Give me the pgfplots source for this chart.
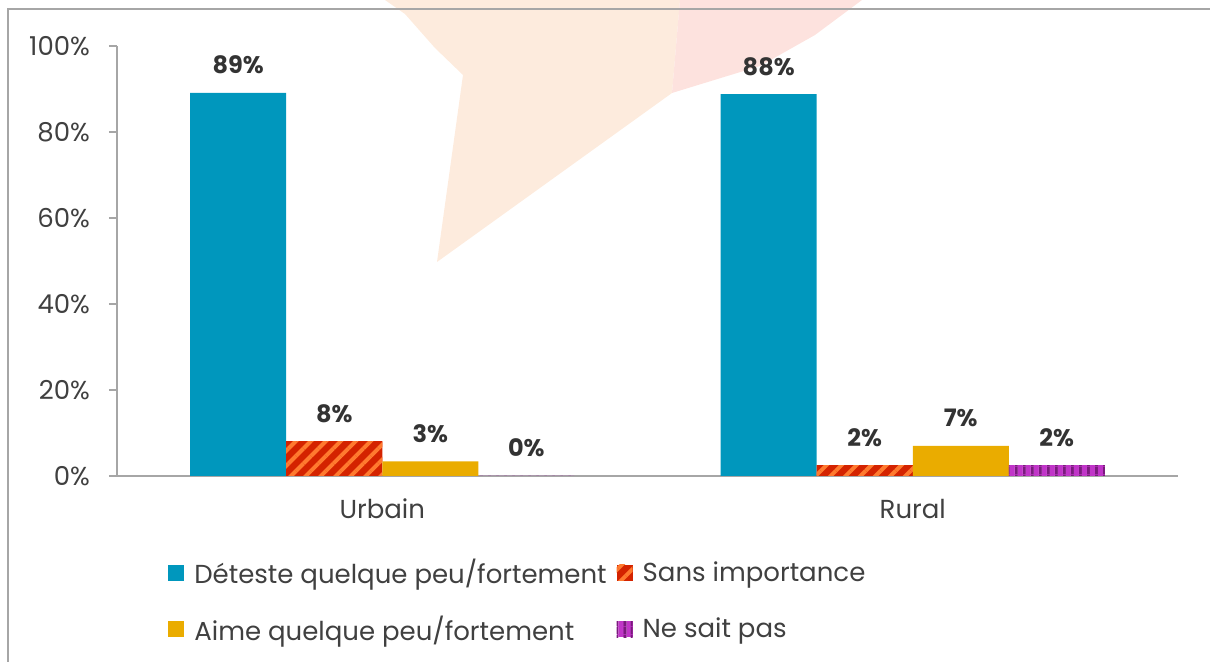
\documentclass[border=0pt]{standalone}
\usepackage{fontspec}
\setmainfont{Poppins}
\usepackage{pgfplots}
\pgfplotsset{compat=1.18}
\usetikzlibrary{patterns.meta}

\definecolor{cblue}{HTML}{0097BD}
\definecolor{cred}{HTML}{D42300}
\definecolor{corange}{HTML}{FF7A2F}
\definecolor{cyellow}{HTML}{EAAC00}
\definecolor{cpurple}{HTML}{C035C8}
\definecolor{cdpurple}{HTML}{7B1A7E}
\definecolor{ctext}{HTML}{404040}
\definecolor{clabel}{HTML}{333333}
\definecolor{cgray}{HTML}{A6A6A6}
\definecolor{cpeach}{HTML}{FDEBDD}
\definecolor{cpink}{HTML}{FDE2DE}

% pixel position of the reference -> picture coordinates (axis origin at 0,0)
\newcommand{\pxy}[2]{({((#1)-117)*0.5pt},{(476-(#2))*0.5pt})}

\begin{document}
\begin{tikzpicture}
\path[use as bounding box] \pxy{0}{662} rectangle \pxy{1210}{0};
% faint watermark
\fill[cpeach] \pxy{385}{0} -- \pxy{405}{14} -- \pxy{435}{48} -- \pxy{463}{75} -- \pxy{437}{262} -- \pxy{672}{93} -- \pxy{680}{0} -- cycle;
\fill[cpink] \pxy{672}{93} -- \pxy{760}{66} -- \pxy{815}{35} -- \pxy{862}{0} -- \pxy{680}{0} -- cycle;
% frame
\draw[cgray, line width=1pt] \pxy{8}{662} -- \pxy{8}{9} -- \pxy{1210}{9};

\begin{axis}[
  scale only axis, width=530.5pt, height=215pt,
  xmin=-0.5, xmax=1.5, ymin=0, ymax=100,
  axis lines*=left,
  axis line style={cgray, line width=1pt},
  ybar, bar width=0.181,
  xtick={0,1}, xticklabels={Urbain,Rural},
  xtick style={draw=none},
  extra x ticks={-0.5,0.5,1.5}, extra x tick labels={},
  extra x tick style={tick style={draw=cgray, line width=1pt}},
  ytick={0,20,40,60,80,100},
  yticklabels={0\%,20\%,40\%,60\%,80\%,100\%},
  ytick style={draw=cgray, line width=1pt},
  tick align=outside, major tick length=4pt,
  tick label style={font=\fontsize{13}{15}\selectfont, text=ctext},
  yticklabel style={xshift=-6pt},
  xticklabel style={yshift=-4pt},
  point meta=explicit symbolic,
  nodes near coords,
  every node near coord/.append style={font=\bfseries\fontsize{12}{14}\selectfont, text=clabel, anchor=base, yshift=9.5pt},
  leg/.style={legend image code/.code={\path[##1,draw=none] (0pt,-4pt) rectangle (8pt,4pt); \path (11pt,0pt);}},
  legend columns=2,
  legend style={at={(axis description cs:0.048,-0.183)}, anchor=north west,
    draw=none, fill=none, inner sep=0pt,
    font=\fontsize{13}{15}\selectfont, text=ctext,
    cells={anchor=west}, row sep=10.5pt,
    /tikz/every even column/.append style={column sep=3pt}},
]
\addplot[fill=cblue, draw=none, bar shift=-0.2715, leg]
  coordinates {(0,89.1) [89\%] (1,88.8) [88\%]};
\addplot[fill=cred, draw=none, bar shift=-0.0905,
  postaction={pattern={Lines[angle=45,distance=5.3pt,line width=2pt]}, pattern color=corange}, leg]
  coordinates {(0,8.1) [8\%] (1,2.5) [2\%]};
\addplot[fill=cyellow, draw=none, bar shift=0.0905, leg]
  coordinates {(0,3.4) [3\%] (1,7.0) [7\%]};
\addplot[fill=cpurple, draw=none, bar shift=0.2715,
  postaction={pattern={Lines[angle=90,distance=4pt,line width=1.6pt]}, pattern color=cdpurple}, leg]
  coordinates {(0,0) [0\%] (1,2.5) [2\%]};
\legend{Déteste quelque peu/fortement, Sans importance, Aime quelque peu/fortement, Ne sait pas}
\end{axis}
\end{tikzpicture}
\end{document}
